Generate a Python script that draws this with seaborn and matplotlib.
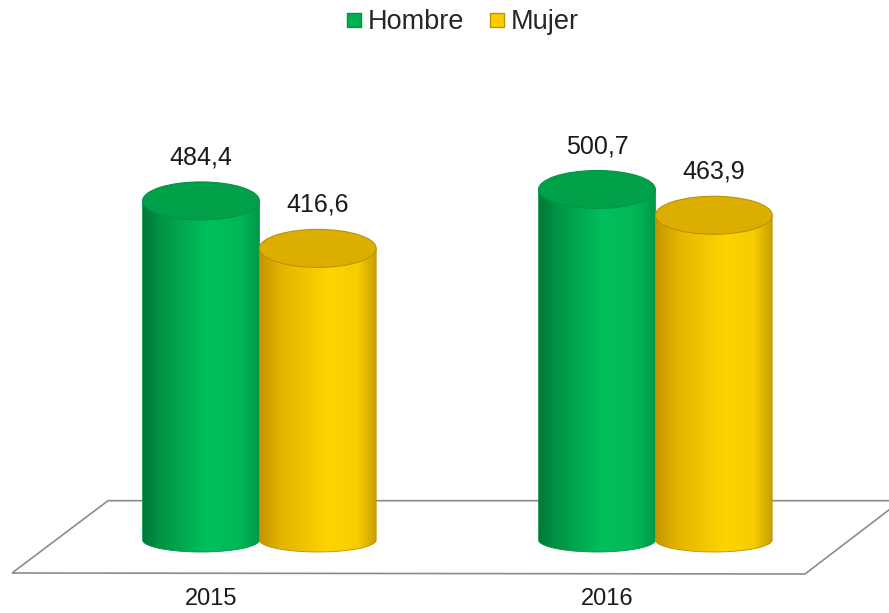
import numpy as np
import pandas as pd
import seaborn as sns
import matplotlib.pyplot as plt
from matplotlib.colors import LinearSegmentedColormap
from matplotlib.patches import Ellipse, PathPatch, Polygon
from matplotlib.path import Path
from matplotlib.lines import Line2D
import matplotlib.transforms as mtransforms

# datos
years = ['2015', '2016']
sexes = ['Hombre', 'Mujer']
hombre = [484.4, 500.7]
mujer = [416.6, 463.9]

df = pd.DataFrame({
    'year': years * 2,
    'sex': [sexes[0]] * 2 + [sexes[1]] * 2,
    'value': hombre + mujer,
})

sns.set_theme(style='white')
plt.rcParams['font.family'] = ['Liberation Sans', 'DejaVu Sans']

base_colors = {'Hombre': '#00b050', 'Mujer': '#ffcc00'}
grad = {
    'Hombre': LinearSegmentedColormap.from_list('h', [
        (0, '#007a36'), (0.15, '#009444'), (0.55, '#00c05c'), (0.82, '#00b856'), (1, '#00984a')]),
    'Mujer': LinearSegmentedColormap.from_list('m', [
        (0, '#c49400'), (0.2, '#e6b500'), (0.6, '#ffd400'), (0.85, '#f7cc00'), (1, '#c9a000')]),
}
top_colors = {'Hombre': '#00a048', 'Mujer': '#dcae00'}
edge_colors = {'Hombre': '#00934a', 'Mujer': '#b89400'}

fig = plt.figure(figsize=(8.89, 6.13), dpi=100)
ax = fig.add_axes([0, 0, 1, 1])

sns.barplot(data=df, x='year', y='value', hue='sex', hue_order=sexes,
            palette=base_colors, width=0.59, gap=0, legend=False, ax=ax)

# piso en perspectiva
W, H = 889, 613
floor = [(12, 573), (108, 500.7), (901, 500.7), (805, 574)]
ax.add_patch(Polygon([(x / W, 1 - y / H) for x, y in floor], closed=True,
                     fill=False, edgecolor='#8c8c8c', linewidth=1.2,
                     transform=ax.transAxes, zorder=1, clip_on=False))

px_per_unit = 0.70
top_h = 38 / px_per_unit
bot_h = 24 / px_per_unit

z = 3
for sex, cont in zip(sexes, ax.containers):
    for bar in cont:
        x0, w, h = bar.get_x(), bar.get_width(), bar.get_height()
        cx = x0 + w / 2
        bar.set_visible(False)
        # cuerpo del cilindro
        t = np.linspace(np.pi, 2 * np.pi, 60)
        verts = [(x0, h), (x0, 0)]
        verts += list(zip(cx + w / 2 * np.cos(t), bot_h / 2 * np.sin(t)))
        verts += [(x0 + w, 0), (x0 + w, h), (x0, h)]
        body = PathPatch(Path(verts), facecolor='none', edgecolor=edge_colors[sex],
                         linewidth=0.6, zorder=z + 0.1)
        ax.add_patch(body)
        img = ax.imshow(np.linspace(0, 1, 256).reshape(1, -1), cmap=grad[sex],
                        extent=[x0, x0 + w, -bot_h / 2, h], aspect='auto',
                        origin='lower', zorder=z, interpolation='bicubic')
        img.set_clip_path(body)
        # tapa
        ax.add_patch(Ellipse((cx, h), w, top_h, facecolor=top_colors[sex],
                             edgecolor=edge_colors[sex], linewidth=0.8, zorder=z + 0.2))
        ax.text(cx, h + 62, f'{h:.1f}'.replace('.', ','), ha='center', va='center',
                fontsize=18, color='#1a1a1a', zorder=10)
        z += 1

# etiquetas de años
trans = mtransforms.blended_transform_factory(ax.transData, ax.transAxes)
for i, yr in enumerate(years):
    ax.text(i - 0.122, 14 / H, yr, transform=trans, ha='center', va='center',
            fontsize=17, color='#1a1a1a')

ax.set_xlim(-0.655, 1.59)
ax.set_ylim(-73 / px_per_unit, 540 / px_per_unit)
ax.axis('off')

handles = [Line2D([], [], marker='s', linestyle='', markersize=10,
                  markerfacecolor=base_colors[s], markeredgecolor=edge_colors[s])
           for s in sexes]
fig.legend(handles, sexes, loc='center', bbox_to_anchor=(461 / W, 1 - 22 / H),
           ncol=2, frameon=False, fontsize=19.5, handletextpad=0.1,
           columnspacing=0.8, handlelength=0.8)

fig.savefig('out.png', dpi=100)
